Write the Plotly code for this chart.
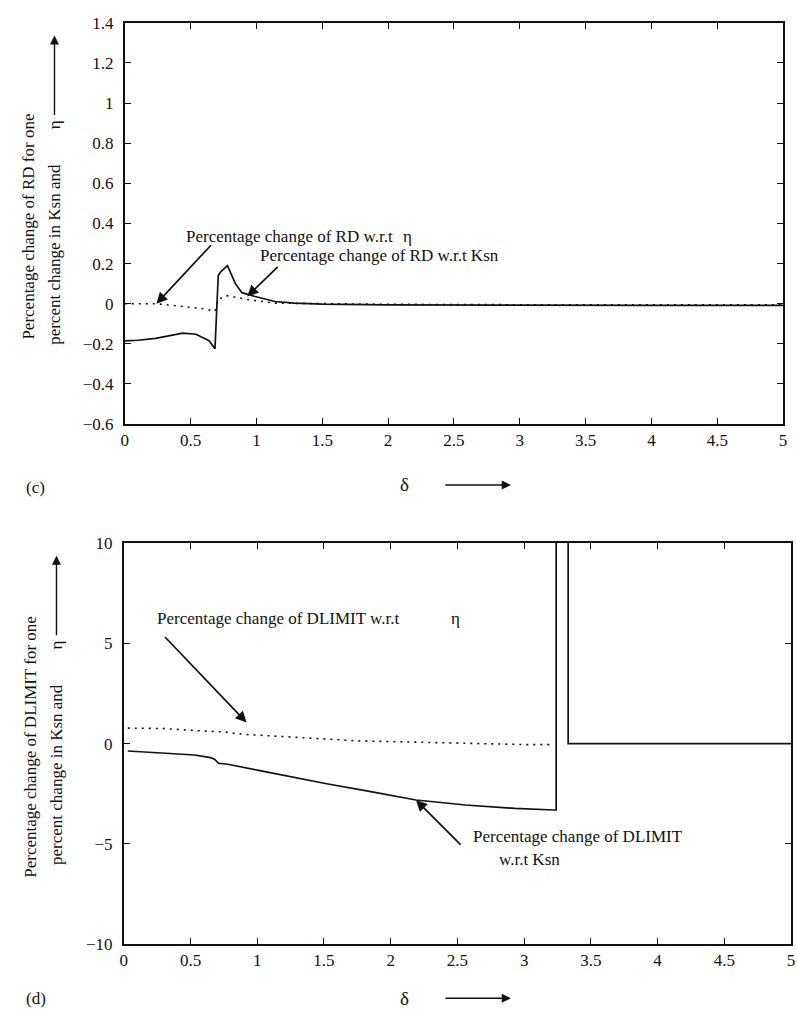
import plotly.graph_objects as go

# Panel (c): percentage change of RD
rd_delta_ksn = [0.0, 0.1, 0.235, 0.35, 0.44, 0.54, 0.64, 0.685, 0.71, 0.73, 0.78, 0.84, 0.89,
                0.99, 1.14, 1.29, 1.5, 2.0, 3.0, 4.0, 5.0]
rd_ksn = [-0.185, -0.182, -0.173, -0.158, -0.147, -0.152, -0.184, -0.225, 0.14, 0.16, 0.19,
          0.10, 0.055, 0.036, 0.011, 0.003, -0.002, -0.006, -0.008, -0.008, -0.008]
rd_delta_eta = [0.0, 0.235, 0.36, 0.485, 0.61, 0.685, 0.71, 0.78, 0.94, 1.14, 1.5, 2.0, 3.0, 4.0, 5.0]
rd_eta = [0.0, 0.0, -0.008, -0.016, -0.026, -0.037, 0.023, 0.04, 0.02, 0.003, 0.0, -0.003,
          -0.005, -0.005, -0.005]

# Panel (d): percentage change of DLIMIT (singularity near delta = 3.25..3.33)
dl_delta_ksn = [0.03, 0.28, 0.53, 0.65, 0.68, 0.71, 0.78, 1.02, 1.27, 1.52, 1.82, 2.19, 2.56,
                2.93, 3.22, 3.24, 3.24, None, 3.33, 3.33, 5.0]
dl_ksn = [-0.37, -0.46, -0.57, -0.70, -0.78, -0.98, -1.03, -1.35, -1.68, -2.0, -2.36, -2.81,
          -3.06, -3.23, -3.31, -3.31, 12.0, None, 12.0, 0.0, 0.0]
dl_delta_eta = [0.03, 0.3, 0.53, 0.75, 0.9, 1.1, 1.27, 1.5, 1.77, 2.0, 2.31, 2.6, 3.0, 3.2]
dl_eta = [0.77, 0.75, 0.65, 0.58, 0.46, 0.38, 0.33, 0.25, 0.13, 0.10, 0.05, 0.0, -0.05, -0.05]

x_ticks = [0, 0.5, 1, 1.5, 2, 2.5, 3, 3.5, 4, 4.5, 5]
x_tick_text = ["0", "0.5", "1", "1.5", "2", "2.5", "3", "3.5", "4", "4.5", "5"]
rd_ticks = [-0.6, -0.4, -0.2, 0, 0.2, 0.4, 0.6, 0.8, 1.0, 1.2, 1.4]
rd_tick_text = ["\u22120.6", "\u22120.4", "\u22120.2", "0", "0.2", "0.4", "0.6", "0.8", "1", "1.2", "1.4"]
dl_ticks = [-10, -5, 0, 5, 10]
dl_tick_text = ["\u221210", "\u22125", "0", "5", "10"]

W, H = 797, 1022
FONT = "Liberation Serif"
INK = "#111111"


def px(x):
    return x / W


def py(y):
    return 1 - y / H


fig = go.Figure()

solid = dict(color=INK, width=1.7)
dotted = dict(color=INK, width=1.6, dash="2px,5px")

fig.add_trace(go.Scatter(x=rd_delta_ksn, y=rd_ksn, mode="lines", line=solid,
                         xaxis="x", yaxis="y", showlegend=False))
fig.add_trace(go.Scatter(x=rd_delta_eta, y=rd_eta, mode="lines", line=dotted,
                         xaxis="x", yaxis="y", showlegend=False))
fig.add_trace(go.Scatter(x=dl_delta_ksn, y=dl_ksn, mode="lines", line=solid, connectgaps=False,
                         xaxis="x2", yaxis="y2", showlegend=False))
fig.add_trace(go.Scatter(x=dl_delta_eta, y=dl_eta, mode="lines", line=dotted,
                         xaxis="x2", yaxis="y2", showlegend=False))

axis_common = dict(
    showgrid=False, zeroline=False, showline=True, mirror="ticks", linecolor=INK,
    linewidth=1.6, ticks="inside", ticklen=6, tickwidth=1.4, tickcolor=INK,
    tickfont=dict(family=FONT, size=17, color=INK),
)

fig.update_layout(
    width=W, height=H,
    margin=dict(l=0, r=0, t=0, b=0),
    paper_bgcolor="white", plot_bgcolor="white",
    xaxis=dict(domain=[px(122), px(787)], range=[0, 5], anchor="y",
               tickvals=x_ticks, ticktext=x_tick_text, **axis_common),
    yaxis=dict(domain=[py(423), py(14)], range=[-0.6, 1.4], anchor="x",
               tickvals=rd_ticks, ticktext=rd_tick_text, ticklabelstandoff=6, **axis_common),
    xaxis2=dict(domain=[px(121), px(795)], range=[0, 5], anchor="y2",
                tickvals=x_ticks, ticktext=x_tick_text, **axis_common),
    yaxis2=dict(domain=[py(953), py(544)], range=[-10, 10], anchor="x2",
                tickvals=dl_ticks, ticktext=dl_tick_text, ticklabelstandoff=6, **axis_common),
)

anns = []


def paper_text(text, x, y, xanchor="left", angle=0, size=17):
    anns.append(dict(text=text, x=px(x), y=py(y), xref="paper", yref="paper",
                     xanchor=xanchor, yanchor="middle", showarrow=False, textangle=angle,
                     font=dict(family=FONT, size=size, color=INK)))


def pointer(xd, yd, ax, ay, xr, yr):
    anns.append(dict(text="", x=xd, y=yd, xref=xr, yref=yr, ax=ax, ay=ay,
                     axref="pixel", ayref="pixel", showarrow=True, arrowhead=2,
                     arrowsize=1.3, arrowwidth=1.7, arrowcolor=INK))


def paper_arrow(x0, y0, x1, y1):
    anns.append(dict(text="", x=px(x1), y=py(y1), xref="paper", yref="paper",
                     ax=x0 - x1, ay=y0 - y1, axref="pixel", ayref="pixel", showarrow=True,
                     arrowhead=2, arrowsize=1.3, arrowwidth=1.4, arrowcolor=INK))


# Panel (c) labels
paper_text("Percentage change of RD w.r.t", 182, 232)
paper_text("\u03b7", 401, 232)
pointer(0.24, 0.0, 56, -60, "x", "y")
paper_text("Percentage change of RD w.r.t Ksn", 257, 251)
pointer(0.93, 0.036, 32, -31, "x", "y")

paper_text("Percentage change of RD for one", 25, 222, xanchor="center", angle=-90)
paper_text("percent change in Ksn and", 51, 250, xanchor="center", angle=-90)
paper_text("\u03b7", 51, 118, xanchor="center", angle=-90)
paper_arrow(51, 108, 51, 27)

paper_text("\u03b4", 405, 485, xanchor="center", size=19)
paper_arrow(445, 485, 512, 485)
paper_text("(c)", 20, 488)

# Panel (d) labels
paper_text("Percentage change of DLIMIT w.r.t", 153, 621)
paper_text("\u03b7", 450, 621)
pointer(0.92, 1.05, -83, -87, "x2", "y2")
paper_text("Percentage change of DLIMIT", 472, 843)
paper_text("w.r.t Ksn", 498, 867)
pointer(2.19, -2.82, 46, 46, "x2", "y2")

paper_text("Percentage change of DLIMIT for one", 26, 752, xanchor="center", angle=-90)
paper_text("percent change in Ksn and", 53, 780, xanchor="center", angle=-90)
paper_text("\u03b7", 53, 648, xanchor="center", angle=-90)
paper_arrow(53, 638, 53, 557)

paper_text("\u03b4", 405, 1008, xanchor="center", size=19)
paper_arrow(445, 1008, 512, 1008)
paper_text("(d)", 20, 1008)

fig.update_layout(annotations=anns)

fig.write_html("out.html")
